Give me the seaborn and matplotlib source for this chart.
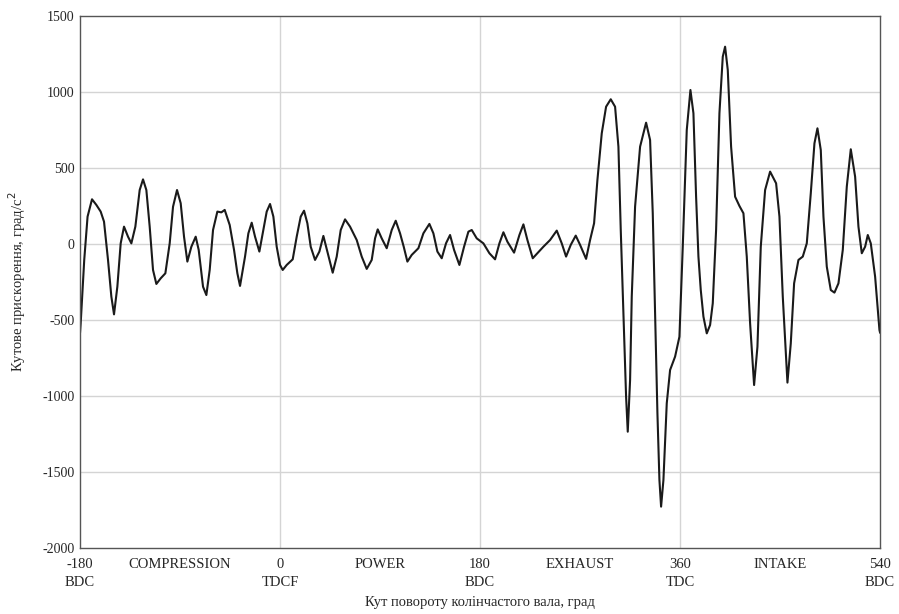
import matplotlib
matplotlib.use("Agg")
import matplotlib.pyplot as plt
import seaborn as sns
import pandas as pd
from matplotlib.ticker import MultipleLocator

crank_angle = [
    -180, -179.4, -176.2, -173.2, -169.2, -165.3, -161.4, -158.4, -154.8, -151.8, -149.4, -146.4,
    -143.4, -140.4, -136.8, -133.8, -130.2, -126.3, -123.3, -120.3, -117.3, -114.3, -111.3,
    -107.4, -103.2, -99.3, -96.3, -92.7, -89.4, -86.4, -83.4, -79.8, -75.9, -73.2, -69.3, -66.3,
    -63.3, -60.3, -56.4, -52.8, -49.8, -45.3, -41.4, -38.4, -36, -31.5, -28.5, -25.5, -22.5,
    -18.6, -15, -12, -9, -6, -3, 0, 2.4, 6, 11.4, 15, 18.6, 21.6, 24.6, 27.6, 31.5, 35.4, 39,
    42.6, 47.4, 51, 54.6, 58.5, 63, 69, 73.5, 78, 82.5, 85.5, 87.9, 91.5, 96, 100.5, 104.1, 108,
    111.3, 114.6, 118.5, 124.5, 129, 134.4, 138, 141.6, 145.5, 149.4, 153, 156.6, 161.4, 165.6,
    169.5, 172.5, 177, 183, 188.4, 193.5, 197.4, 201, 204.6, 210.6, 215.4, 219, 222.6, 227.4,
    231.6, 237, 243, 249, 253.5, 257.4, 261.6, 266.1, 270, 275.4, 279, 282.6, 285.6, 289.5,
    293.4, 297.6, 301.5, 304.5, 306.6, 309, 311.4, 312.9, 315, 316.5, 319.5, 324, 329.4, 333,
    335.4, 337.5, 339.6, 341.4, 342.9, 345, 348, 351, 355.5, 359.4, 362.4, 366, 369.3, 372,
    374.4, 376.5, 378.6, 381, 384, 387, 389.4, 392.4, 395.4, 398.4, 400.5, 402.9, 405.9, 409.5,
    413.4, 417, 420, 423, 426.6, 429.6, 432.6, 436.5, 441, 446.4, 449.4, 452.4, 456.6, 459.6,
    462.6, 466.5, 470.4, 474, 477.6, 480.9, 483.6, 486.6, 489, 492, 495.6, 498.9, 502.5, 506.4,
    510, 513.6, 517.5, 520.5, 523.5, 526.5, 528.9, 531.6, 535.5, 539.4, 540,
]
angular_accel = [
    -585, -522, -105, 180, 294, 257, 213, 147, -105, -346, -463, -281,
    4, 114, 48, 4, 114, 355, 425, 355, 114, -171, -263,
    -226, -193, 4, 245, 355, 268, 48, -116, -18, 48, -39, -281, -336,
    -171, 92, 213, 208, 224, 125, -39, -193, -276, -83, 70, 140, 48,
    -50, 92, 213, 263, 180, -18, -138, -171, -138, -101, 48, 180, 219, 136, -18, -105, -50, 53,
    -50, -189, -83, 92, 162, 114, 26, -83, -164, -105, 37, 96, 37, -28, 92, 153, 70,
    -18, -116, -72, -28, 70, 132, 70, -50, -94, 5, 59, -39, -138, -18,
    81, 92, 37, 4, -61, -101, 4, 77, 15, -57, 59, 129, 26, -94,
    -61, -18, 26, 88, 4, -83, -6, 55, -6, -98, 26, 136, 421, 728,
    903, 952, 903, 640, 92, -456, -1004, -1235, -895, -346, 246, 640, 798, 684,
    202, -456, -1114, -1553, -1728, -1553, -1048, -829, -741, -610, -18, 750, 1013, 860,
    311, -83, -303, -478, -588, -533, -390, 93, 860, 1232, 1298, 1145, 640, 311,
    250, 202, -83, -522, -928, -676, -18, 355, 476, 399, 180, -346, -912, -654,
    -259, -105, -83, 4, 333, 662, 761, 618, 180, -149, -303, -320, -259, -39,
    377, 623, 443, 114, -61, -18, 59, 4, -215, -566, -585,
]

tick_pos = [-180, -90, 0, 90, 180, 270, 360, 450, 540]
tick_labels = ["-180\nBDC", "COMPRESSION", "0\nTDCF", "POWER", "180\nBDC",
               "EXHAUST", "360\nTDC", "INTAKE", "540\nBDC"]
y_ticks = [-2000, -1500, -1000, -500, 0, 500, 1000, 1500]

sns.set_style("white")
plt.rcParams["font.family"] = ["Liberation Serif", "DejaVu Serif"]
plt.rcParams["axes.unicode_minus"] = False

df = pd.DataFrame({"angle": crank_angle, "accel": angular_accel})

fig = plt.figure(figsize=(8.99, 6.14), dpi=100)
ax = fig.add_axes([0.089, 0.1075, 0.89, 0.8665])

for yv in y_ticks[1:-1]:
    ax.axhline(yv, color="#d4d4d4", lw=1.0, zorder=0)
for xv in [0, 180, 360]:
    ax.axvline(xv, color="#d4d4d4", lw=1.0, zorder=0)

sns.lineplot(data=df, x="angle", y="accel", ax=ax, color="#1a1a1a", lw=1.5,
             estimator=None, sort=False)

ax.set_xlim(-180, 540)
ax.set_ylim(-2000, 1500)
ax.set_xticks(tick_pos)
ax.set_xticklabels(tick_labels, fontsize=10.5, linespacing=1.5)
ax.set_yticks(y_ticks)
ax.set_yticklabels([str(v) for v in y_ticks], fontsize=10)
ax.xaxis.set_minor_locator(MultipleLocator(10))
ax.tick_params(axis="x", which="both", direction="in", length=3, width=0.8,
               color="#555555", pad=7)
ax.tick_params(axis="y", which="major", direction="in", length=4, width=0.8,
               color="#555555", pad=4)
for s in ax.spines.values():
    s.set_color("#555555")
    s.set_linewidth(1.0)

ax.set_xlabel("Кут повороту колінчастого вала, град", fontsize=10.5, labelpad=5)
ax.set_ylabel("Кутове прискорення, град/с$^2$", fontsize=10.5, labelpad=10)

fig.savefig("out.png", dpi=100)
